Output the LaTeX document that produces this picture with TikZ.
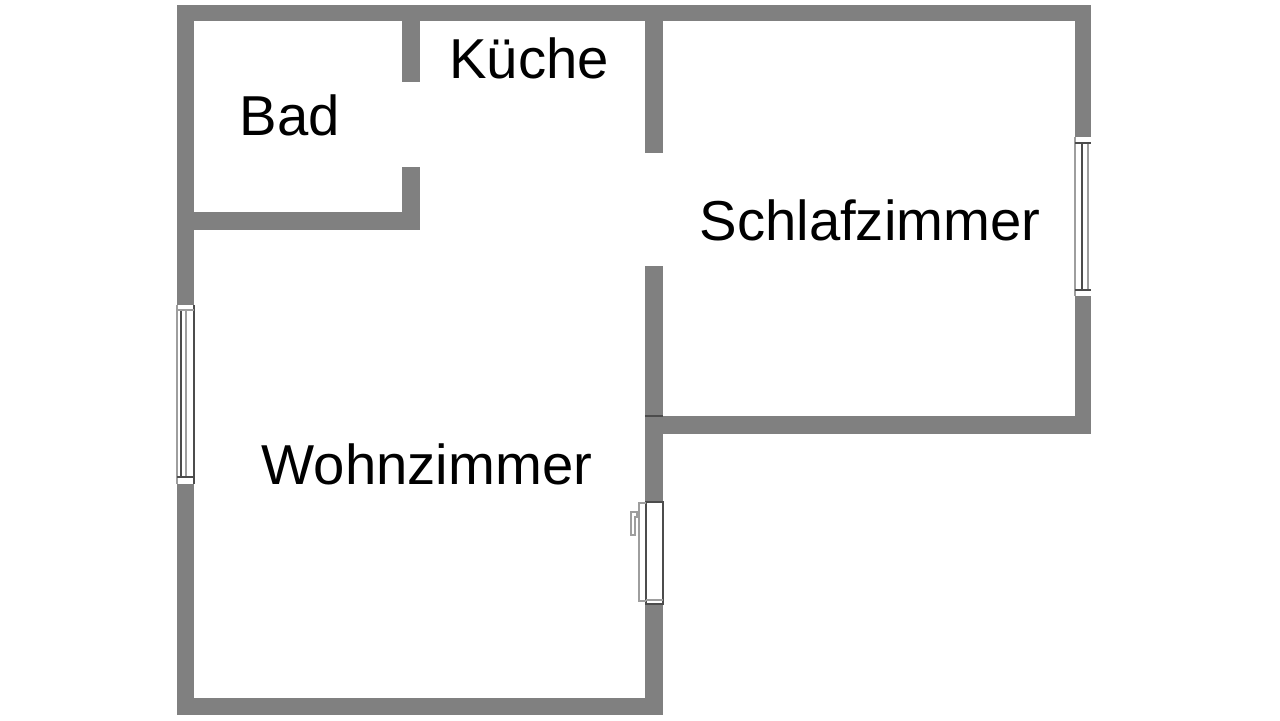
\documentclass[tikz,border=0pt]{standalone}
\usepackage{fontspec}
\setmainfont{Liberation Sans}
\usepackage{xcolor}
\definecolor{wallgray}{rgb}{0.5, 0.5, 0.5}
\definecolor{framegray}{rgb}{0.62, 0.62, 0.62}
\definecolor{darkline}{rgb}{0.3, 0.3, 0.3}

\begin{document}
\begin{tikzpicture}[x=0.01cm,y=-0.01cm]
        \tikzstyle{wall}=[fill=wallgray,draw=none]
        \tikzstyle{frame}=[draw=framegray,line width=0.5pt]
        \tikzstyle{frameline}=[draw=darkline,line width=0.5pt]
        \tikzstyle{room}=[anchor=base,inner sep=0pt,font=\fontsize{16pt}{18pt}\selectfont]
        \useasboundingbox[fill=white] (0,0) rectangle (1280,720);

        % Outer walls
        \fill[wall] (177,5) rectangle (1091,21);
        \fill[wall] (177,5) rectangle (194,305);
        \fill[wall] (177,484) rectangle (194,715);
        \fill[wall] (177,698) rectangle (663,715);
        \fill[wall] (1075,5) rectangle (1091,137);
        \fill[wall] (1075,296) rectangle (1091,434);
        \fill[wall] (645,416) rectangle (1091,434);

        % Inner walls
        \fill[wall] (645,5) rectangle (663,153);
        \fill[wall] (645,266) rectangle (663,502);
        \fill[wall] (645,604) rectangle (663,715);
        \fill[wall] (402,21) rectangle (420,82);
        \fill[wall] (402,167) rectangle (420,230);
        \fill[wall] (177,212) rectangle (420,230);
        \draw[frameline] (645,416) -- (663,416);

        % Left window
        \draw[frame] (177,305) -- (177,484);
        \draw[frameline] (194,305) -- (194,484);
        \draw[frameline] (181,310) -- (181,477);
        \draw[frame] (186,310) -- (186,477);
        \draw[frame] (177,310) -- (194,310);
        \draw[frameline] (177,477) -- (194,477);

        % Right window
        \draw[frame] (1075,137) -- (1075,296);
        \draw[frameline] (1082,143) -- (1082,290);
        \draw[frame] (1088,143) -- (1088,290);
        \draw[frameline] (1075,143) -- (1091,143);
        \draw[frameline] (1075,290) -- (1091,290);

        % Balcony door
        \draw[frameline,fill=white] (646,502) rectangle (663,604);
        \draw[frame] (646,600) -- (663,600);
        \draw[frame] (646,503) -- (639,503) -- (639,601) -- (646,601);
        \draw[frame] (631,512) -- (637,512) -- (637,517) -- (635,517) -- (635,535) -- (631,535) -- cycle;

        % Room names
        \node (bad)[room] at (290,135) {Bad};
        \node (kueche)[room] at (529,78) {Küche};
        \node (schlafzimmer)[room] at (870,240) {Schlafzimmer};
        \node (wohnzimmer)[room] at (427,484) {Wohnzimmer};
\end{tikzpicture}
\end{document}
